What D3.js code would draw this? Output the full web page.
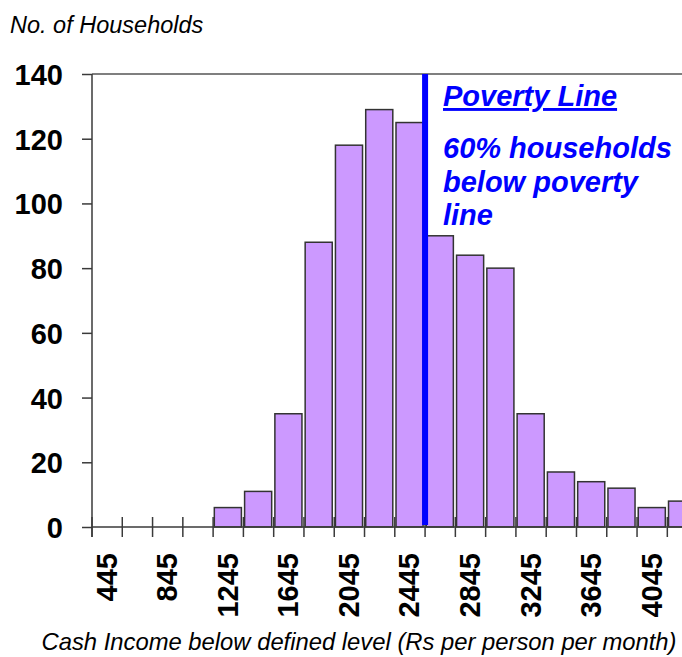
<!DOCTYPE html>
<html><head><meta charset="utf-8">
<script src="https://cdn.jsdelivr.net/npm/d3@7/dist/d3.min.js"></script>
<style>body{margin:0;background:#fff}svg{display:block}</style>
</head><body>
<svg id="c" width="682" height="657"></svg>
<script>
const categories = ["445","645","845","1045","1245","1445","1645","1845","2045","2245","2445","2645","2845","3045","3245","3445","3645","3845","4045","4245"];
const households = [0,0,0,0,6,11,35,88,118,129,125,90,84,80,35,17,14,12,6,8];
const tickLabels = ["445","845","1245","1645","2045","2445","2845","3245","3645","4045"];
const yTicks = [0,20,40,60,80,100,120,140];
const povertyAfter = "2445";
const povertyText = ["60% households","below poverty","line"];

(function(){
const svg = d3.select("#c");
const font = "'Liberation Sans', Arial, sans-serif";
const mLeft = 92, mTop = 74, mBottom = 527;
const step = 30.28;
const x = d3.scaleBand().domain(categories).range([mLeft, mLeft + step*categories.length]).paddingInner(0).paddingOuter(0);
const y = d3.scaleLinear().domain([0,140]).range([mBottom, mTop]);
const axisCol = "#3a3a3a";

// bars
svg.append("g").selectAll("rect").data(categories.map((c,i)=>({c,v:households[i]})).filter(d=>d.v>0))
  .join("rect")
  .attr("x", d=>x(d.c)+1.2)
  .attr("width", x.bandwidth()-3.2)
  .attr("y", d=>y(d.v))
  .attr("height", d=>y(0)-y(d.v))
  .attr("fill","#CC99FF")
  .attr("stroke","#333")
  .attr("stroke-width",1.5);

// top border
svg.append("line").attr("x1",mLeft).attr("x2",682).attr("y1",mTop).attr("y2",mTop)
  .attr("stroke","#555").attr("stroke-width",1.5);

// y axis
const yAxis = d3.axisLeft(y).tickValues(yTicks).tickSize(10).tickPadding(19);
const gy = svg.append("g").attr("transform",`translate(${mLeft},0)`).call(yAxis);
gy.select(".domain").remove();
gy.selectAll(".tick line").attr("stroke",axisCol).attr("stroke-width",1.5);
gy.selectAll("text").attr("font-family",font).attr("font-weight","bold").attr("font-size",29).attr("fill","#000")
  .attr("dy","0.36em");
svg.append("line").attr("x1",mLeft).attr("x2",mLeft).attr("y1",mTop).attr("y2",mBottom+10)
  .attr("stroke",axisCol).attr("stroke-width",1.5);

// x axis
svg.append("line").attr("x1",mLeft).attr("x2",682).attr("y1",mBottom).attr("y2",mBottom)
  .attr("stroke",axisCol).attr("stroke-width",1.5);
const bounds = categories.map(c=>x(c));
svg.append("g").selectAll("line").data(bounds).join("line")
  .attr("x1",d=>d).attr("x2",d=>d).attr("y1",mBottom-10).attr("y2",mBottom+10)
  .attr("stroke",axisCol).attr("stroke-width",1.5);
svg.append("g").selectAll("text").data(tickLabels).join("text")
  .attr("transform",d=>`translate(${x(d)+x.bandwidth()/2-1},553) rotate(-90)`)
  .attr("text-anchor","end").attr("dy","0.36em")
  .attr("font-family",font).attr("font-weight","bold").attr("font-size",29).attr("fill","#000")
  .text(d=>d);

// poverty line
const px = x(povertyAfter)+x.bandwidth();
svg.append("line").attr("x1",px).attr("x2",px).attr("y1",mTop).attr("y2",mBottom-2)
  .attr("stroke","#0000FF").attr("stroke-width",6);
svg.append("text").attr("x",443).attr("y",106)
  .attr("font-family",font).attr("font-weight","bold").attr("font-style","italic").attr("font-size",29)
  .attr("fill","#0000FF").attr("text-decoration","underline").text("Poverty Line");
svg.append("g").selectAll("text").data(povertyText).join("text")
  .attr("x",443).attr("y",(d,i)=>158+i*33.5)
  .attr("font-family",font).attr("font-weight","bold").attr("font-style","italic").attr("font-size",29)
  .attr("fill","#0000FF").text(d=>d);

// titles
svg.append("text").attr("x",10).attr("y",33).attr("font-family",font).attr("font-style","italic")
  .attr("font-size",23.5).attr("fill","#000").text("No. of Households");
svg.append("text").attr("x",359).attr("y",650).attr("text-anchor","middle").attr("font-family",font).attr("font-style","italic")
  .attr("font-size",23.8).attr("fill","#000").text("Cash Income below defined level (Rs per person per month)");
})();
</script>
</body></html>
